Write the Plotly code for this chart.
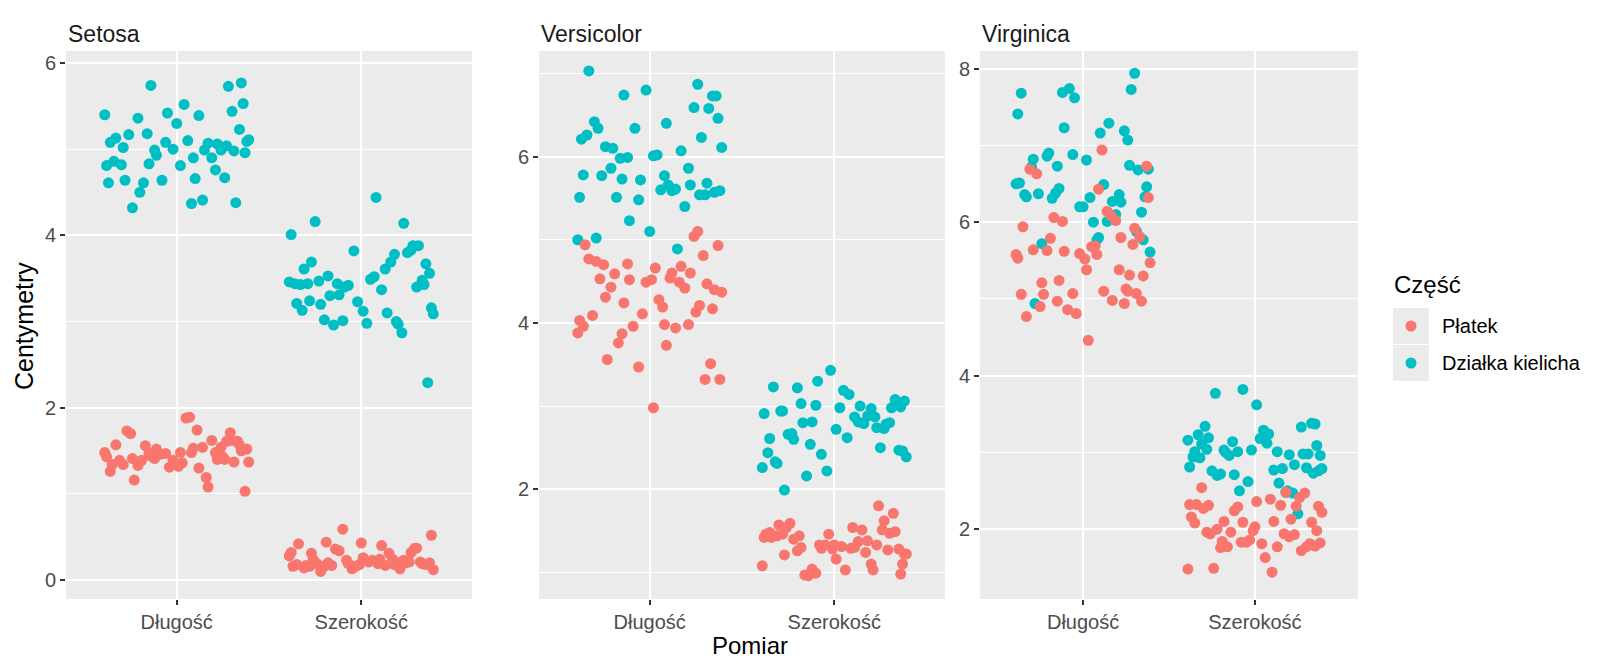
import plotly.graph_objects as go

# iris measurements per species (cm)
species = ["Setosa", "Versicolor", "Virginica"]
measures = ["Długość", "Szerokość"]
parts = ["Płatek", "Działka kielicha"]

setosa_sepal_len = [5.1, 4.9, 4.7, 4.6, 5.0, 5.4, 4.6, 5.0, 4.4, 4.9,
                    5.4, 4.8, 4.8, 4.3, 5.8, 5.7, 5.4, 5.1, 5.7, 5.1,
                    5.4, 5.1, 4.6, 5.1, 4.8, 5.0, 5.0, 5.2, 5.2, 4.7,
                    4.8, 5.4, 5.2, 5.5, 4.9, 5.0, 5.5, 4.9, 4.4, 5.1,
                    5.0, 4.5, 4.4, 5.0, 5.1, 4.8, 5.1, 4.6, 5.3, 5.0]
setosa_sepal_wid = [3.5, 3.0, 3.2, 3.1, 3.6, 3.9, 3.4, 3.4, 2.9, 3.1,
                    3.7, 3.4, 3.0, 3.0, 4.0, 4.4, 3.9, 3.5, 3.8, 3.8,
                    3.4, 3.7, 3.6, 3.3, 3.4, 3.0, 3.4, 3.5, 3.4, 3.2,
                    3.1, 3.4, 4.1, 4.2, 3.1, 3.2, 3.5, 3.6, 3.0, 3.4,
                    3.5, 2.3, 3.2, 3.5, 3.8, 3.0, 3.8, 3.2, 3.7, 3.3]
setosa_petal_len = [1.4, 1.4, 1.3, 1.5, 1.4, 1.7, 1.4, 1.5, 1.4, 1.5,
                    1.5, 1.6, 1.4, 1.1, 1.2, 1.5, 1.3, 1.4, 1.7, 1.5,
                    1.7, 1.5, 1.0, 1.7, 1.9, 1.6, 1.6, 1.5, 1.4, 1.6,
                    1.6, 1.5, 1.5, 1.4, 1.5, 1.2, 1.3, 1.4, 1.3, 1.5,
                    1.3, 1.3, 1.3, 1.6, 1.9, 1.4, 1.6, 1.4, 1.5, 1.4]
setosa_petal_wid = [0.2, 0.2, 0.2, 0.2, 0.2, 0.4, 0.3, 0.2, 0.2, 0.1,
                    0.2, 0.2, 0.1, 0.1, 0.2, 0.4, 0.4, 0.3, 0.3, 0.3,
                    0.2, 0.4, 0.2, 0.5, 0.2, 0.2, 0.4, 0.2, 0.2, 0.2,
                    0.2, 0.4, 0.1, 0.2, 0.2, 0.2, 0.2, 0.1, 0.2, 0.2,
                    0.3, 0.3, 0.2, 0.6, 0.4, 0.3, 0.2, 0.2, 0.2, 0.2]

versicolor_sepal_len = [7.0, 6.4, 6.9, 5.5, 6.5, 5.7, 6.3, 4.9, 6.6, 5.2,
                        5.0, 5.9, 6.0, 6.1, 5.6, 6.7, 5.6, 5.8, 6.2, 5.6,
                        5.9, 6.1, 6.3, 6.1, 6.4, 6.6, 6.8, 6.7, 6.0, 5.7,
                        5.5, 5.5, 5.8, 6.0, 5.4, 6.0, 6.7, 6.3, 5.6, 5.5,
                        5.5, 6.1, 5.8, 5.0, 5.6, 5.7, 5.7, 6.2, 5.1, 5.7]
versicolor_sepal_wid = [3.2, 3.2, 3.1, 2.3, 2.8, 2.8, 3.3, 2.4, 2.9, 2.7,
                        2.0, 3.0, 2.2, 2.9, 2.9, 3.1, 3.0, 2.7, 2.2, 2.5,
                        3.2, 2.8, 2.5, 2.8, 2.9, 3.0, 2.8, 3.0, 2.9, 2.6,
                        2.4, 2.4, 2.7, 2.7, 3.0, 3.4, 3.1, 2.3, 3.0, 2.5,
                        2.6, 3.0, 2.6, 2.3, 2.7, 3.0, 2.9, 2.9, 2.5, 2.8]
versicolor_petal_len = [4.7, 4.5, 4.9, 4.0, 4.6, 4.5, 4.7, 3.3, 4.6, 3.9,
                        3.5, 4.2, 4.0, 4.7, 3.6, 4.4, 4.5, 4.1, 4.5, 3.9,
                        4.8, 4.0, 4.9, 4.7, 4.3, 4.4, 4.8, 5.0, 4.5, 3.5,
                        3.8, 3.7, 3.9, 5.1, 4.5, 4.5, 4.7, 4.4, 4.1, 4.0,
                        4.4, 4.6, 4.0, 3.3, 4.2, 4.2, 4.2, 4.3, 3.0, 4.1]
versicolor_petal_wid = [1.4, 1.5, 1.5, 1.3, 1.5, 1.3, 1.6, 1.0, 1.3, 1.4,
                        1.0, 1.5, 1.0, 1.4, 1.3, 1.4, 1.5, 1.0, 1.5, 1.1,
                        1.8, 1.3, 1.5, 1.2, 1.3, 1.4, 1.4, 1.7, 1.5, 1.0,
                        1.1, 1.0, 1.2, 1.6, 1.5, 1.6, 1.5, 1.3, 1.3, 1.3,
                        1.2, 1.4, 1.2, 1.0, 1.3, 1.2, 1.3, 1.3, 1.1, 1.3]

virginica_sepal_len = [6.3, 5.8, 7.1, 6.3, 6.5, 7.6, 4.9, 7.3, 6.7, 7.2,
                       6.5, 6.4, 6.8, 5.7, 5.8, 6.4, 6.5, 7.7, 7.7, 6.0,
                       6.9, 5.6, 7.7, 6.3, 6.7, 7.2, 6.2, 6.1, 6.4, 7.2,
                       7.4, 7.9, 6.4, 6.3, 6.1, 7.7, 6.3, 6.4, 6.0, 6.9,
                       6.7, 6.9, 5.8, 6.8, 6.7, 6.7, 6.3, 6.5, 6.2, 5.9]
virginica_sepal_wid = [3.3, 2.7, 3.0, 2.9, 3.0, 3.0, 2.5, 2.9, 2.5, 3.6,
                       3.2, 2.7, 3.0, 2.5, 2.8, 3.2, 3.0, 3.8, 2.6, 2.2,
                       3.2, 2.8, 2.8, 2.7, 3.3, 3.2, 2.8, 3.0, 2.8, 3.0,
                       2.8, 3.8, 2.8, 2.8, 2.6, 3.0, 3.4, 3.1, 3.0, 3.1,
                       3.1, 3.1, 2.7, 3.2, 3.3, 3.0, 2.5, 3.0, 3.4, 3.0]
virginica_petal_len = [6.0, 5.1, 5.9, 5.6, 5.8, 6.6, 4.5, 6.3, 5.8, 6.1,
                       5.1, 5.3, 5.5, 5.0, 5.1, 5.3, 5.5, 6.7, 6.9, 5.0,
                       5.7, 4.9, 6.7, 4.9, 5.7, 6.0, 4.8, 4.9, 5.6, 5.8,
                       6.1, 6.4, 5.6, 5.1, 5.6, 6.1, 5.6, 5.5, 4.8, 5.4,
                       5.6, 5.1, 5.1, 5.9, 5.7, 5.2, 5.0, 5.2, 5.4, 5.1]
virginica_petal_wid = [2.5, 1.9, 2.1, 1.8, 2.2, 2.1, 1.7, 1.8, 1.8, 2.5,
                       2.0, 1.9, 2.1, 2.0, 2.4, 2.3, 1.8, 2.2, 2.3, 1.5,
                       2.3, 2.0, 2.0, 1.8, 2.1, 1.8, 1.8, 1.8, 2.1, 1.6,
                       1.9, 2.0, 2.2, 1.5, 1.4, 2.3, 2.4, 1.8, 1.8, 2.1,
                       2.4, 2.3, 1.9, 2.3, 2.5, 2.3, 1.9, 2.0, 2.3, 1.8]

# jitter, in hundredths of a category / of a cm
jit_x_pl = [-12, 31, -35, 8, 22, -27, 3, 38, -19, 14,
            -6, 27, -38, 17, -23, 35, 1, -31, 11, -15,
            29, -9, 37, -25, 5, 19, -33, 24, -2, 33,
            -17, 9, -39, 26, -11, 16, -29, 39, -4, 21,
            -21, 12, -36, 30, 7, -14, 34, -24, 2, 25]
jit_x_pw = [18, -26, 33, -8, -37, 11, 27, -16, 4, -31,
            36, -3, 21, -22, 9, -34, 30, -12, 15, -39,
            24, 0, -28, 38, -7, 13, -19, 32, -35, 6,
            20, -14, 39, -24, 10, -30, 26, -5, 35, -18,
            1, -38, 17, -10, 29, -27, 23, -1, 37, -20]
jit_x_sl = [-33, 9, 26, -18, 37, -5, -28, 15, 32, -11,
            -39, 21, 2, -24, 35, -14, 12, -36, 28, 6,
            -21, 39, -8, 17, -30, 24, -2, 34, -16, 10,
            -38, 30, -26, 4, 19, -12, 36, -34, 14, -6,
            27, -20, 8, -29, 38, -15, 22, -37, 0, 31]
jit_x_sw = [5, -20, 38, -32, 13, 28, -9, -36, 22, 1,
            -27, 34, -15, 19, -38, 8, 31, -23, -4, 25,
            -33, 16, 37, -12, -29, 3, 30, -18, 11, -35,
            39, -7, 23, -25, 14, -2, 33, -31, 20, -13,
            7, 36, -22, -39, 27, -10, 18, -28, 35, -17]
jit_y_pl = [1, -3, 4, -2, 0, 3, -4, 2, -1, 4, -3, 1, 3, -2, -4, 0, 2, -1, 4, -3,
            1, -4, 3, 0, -2, 2, -3, 4, -1, 1, -4, 3, -2, 0, 2, -1, 4, -3, 1, -2,
            3, 0, -4, 2, -1, 4, -3, 1, -2, 3]
jit_y_pw = [-2, 4, -1, 3, -4, 0, 2, -3, 1, 4, -2, -4, 3, 0, -1, 2, -3, 4, 1, -2,
            0, 3, -4, 2, -1, -3, 4, 1, -2, 3, 0, -4, 2, -1, 4, -3, 1, 3, -2, 0,
            -4, 2, 4, -1, -3, 1, 3, -2, 0, -4]
jit_y_sl = [3, 0, -3, 1, -4, 2, 4, -1, -2, 3, 0, -4, 1, 2, -3, 4, -1, -2, 3, 0,
            -4, 1, 4, -3, 2, -1, 0, 3, -2, -4, 1, 4, -3, 2, 0, -1, 3, -4, 1, -2,
            4, 0, -3, 2, -1, 3, -4, 1, 0, -2]
jit_y_sw = [-1, 2, -4, 3, 1, -2, 0, 4, -3, 2, -1, 3, -4, 0, 1, 4, -2, -3, 2, 0,
            3, -1, -4, 1, 4, -2, 0, 3, -3, 1, -1, 2, 4, -4, 0, 3, -2, 1, -3, 4,
            2, -1, 0, -4, 3, 1, -2, 4, -3, 0]

data = {
    "Setosa": (setosa_petal_len, setosa_petal_wid, setosa_sepal_len, setosa_sepal_wid),
    "Versicolor": (versicolor_petal_len, versicolor_petal_wid, versicolor_sepal_len, versicolor_sepal_wid),
    "Virginica": (virginica_petal_len, virginica_petal_wid, virginica_sepal_len, virginica_sepal_wid),
}
y_ranges = [[-0.22, 6.14], [0.68, 7.27], [1.09, 8.23]]
colors = {"Płatek": "#F8766D", "Działka kielicha": "#00BFC4"}

W, H = 1600, 671
FONT = "Liberation Sans, Arial"
x_domains = [[58 / W, 464 / W], [531 / W, 937 / W], [972 / W, 1350 / W]]
y_domain = [(H - 591) / H, (H - 43) / H]


def px(v):
    return v / W


def py(v):
    return (H - v) / H


def jittered(vals_len, vals_wid, jx_len, jx_wid, jy_len, jy_wid):
    xs = [1 + j / 100 for j in jx_len] + [2 + j / 100 for j in jx_wid]
    ys = [v + j / 100 for v, j in zip(vals_len, jy_len)] + \
         [v + j / 100 for v, j in zip(vals_wid, jy_wid)]
    return xs, ys


fig = go.Figure()

for i, sp in enumerate(species):
    pl, pw, sl, sw = data[sp]
    ax = "" if i == 0 else str(i + 1)
    sx, sy = jittered(sl, sw, jit_x_sl, jit_x_sw, jit_y_sl, jit_y_sw)
    ptx, pty = jittered(pl, pw, jit_x_pl, jit_x_pw, jit_y_pl, jit_y_pw)
    fig.add_trace(go.Scatter(
        x=sx, y=sy, mode="markers", name="Działka kielicha", showlegend=False,
        marker=dict(color=colors["Działka kielicha"], size=11, line=dict(width=0)),
        xaxis="x" + ax, yaxis="y" + ax))
    fig.add_trace(go.Scatter(
        x=ptx, y=pty, mode="markers", name="Płatek", showlegend=False,
        marker=dict(color=colors["Płatek"], size=11, line=dict(width=0)),
        xaxis="x" + ax, yaxis="y" + ax))

    xa = dict(domain=x_domains[i], range=[0.4, 2.6], tickvals=[1, 2], ticktext=measures,
              showgrid=True, gridcolor="white", gridwidth=2.2, zeroline=False,
              ticks="outside", ticklen=5, tickwidth=2, tickcolor="#333333",
              tickfont=dict(family=FONT, size=20, color="#4D4D4D"),
              anchor="y" + ax, fixedrange=True)
    ya = dict(domain=y_domain, range=y_ranges[i], tick0=0, dtick=2,
              showgrid=True, gridcolor="white", gridwidth=2.2, zeroline=False,
              minor=dict(dtick=1, tick0=0, showgrid=True, gridcolor="white", gridwidth=1.1),
              ticks="outside", ticklen=5, tickwidth=2, tickcolor="#333333",
              tickfont=dict(family=FONT, size=20, color="#4D4D4D"),
              anchor="x" + ax, fixedrange=True)
    fig.update_layout(**{"xaxis" + ax: xa, "yaxis" + ax: ya})

    # facet strip label
    fig.add_annotation(text=sp, xref="paper", yref="paper",
                       x=x_domains[i][0], y=py(26), xanchor="left", yanchor="middle",
                       showarrow=False, font=dict(family=FONT, size=23, color="#1A1A1A"))

fig.add_annotation(text="Pomiar", xref="paper", yref="paper", x=px(742), y=py(637),
                   xanchor="center", yanchor="middle", showarrow=False,
                   font=dict(family=FONT, size=24, color="black"))
fig.add_annotation(text="Centymetry", xref="paper", yref="paper", x=px(16), y=py(318),
                   xanchor="center", yanchor="middle", textangle=-90, showarrow=False,
                   font=dict(family=FONT, size=25, color="black"))

# legend drawn ggplot-style: grey key boxes, dots and labels
fig.add_annotation(text="Część", xref="paper", yref="paper", x=px(1384), y=py(276),
                   xanchor="left", yanchor="middle", showarrow=False,
                   font=dict(family=FONT, size=24, color="black"))
key_left, key_size = 1385, 36
for k, part in enumerate(parts):
    cy = 318 + k * (key_size + 1)
    fig.add_shape(type="rect", xref="paper", yref="paper", layer="below",
                  x0=px(key_left), x1=px(key_left + key_size),
                  y0=py(cy + key_size / 2), y1=py(cy - key_size / 2),
                  fillcolor="#EBEBEB", line=dict(width=0))
    fig.add_shape(type="circle", xref="paper", yref="paper",
                  xsizemode="pixel", ysizemode="pixel",
                  xanchor=px(key_left + key_size / 2), yanchor=py(cy),
                  x0=-5.5, x1=5.5, y0=-5.5, y1=5.5,
                  fillcolor=colors[part], line=dict(width=0))
    fig.add_annotation(text=part, xref="paper", yref="paper",
                       x=px(key_left + key_size + 11), y=py(cy),
                       xanchor="left", yanchor="middle", showarrow=False,
                       font=dict(family=FONT, size=20, color="black"))

fig.update_layout(
    width=W, height=H,
    margin=dict(l=0, r=0, t=0, b=0),
    paper_bgcolor="white",
    plot_bgcolor="#EBEBEB",
    showlegend=False,
)

fig.write_html("out.html")
